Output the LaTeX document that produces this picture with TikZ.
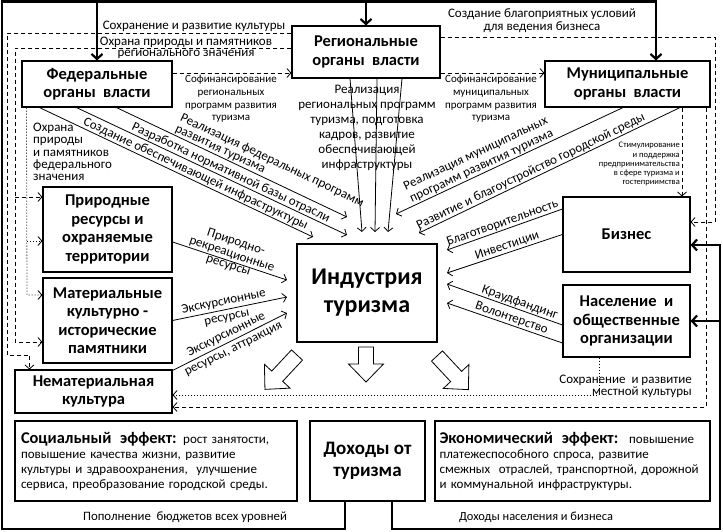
\documentclass[tikz,border=0pt]{standalone}
\usepackage{fontspec}
\setmainfont{Carlito}
\usetikzlibrary{arrows.meta}

\begin{document}
\begin{tikzpicture}[x=1pt, y=-1pt,
  box/.style={draw, line width=1.1pt, inner sep=0pt, align=center,
    font=\fontsize{16.5}{18.5}\selectfont\bfseries},
  effbox/.style={draw, line width=1.1pt, inner xsep=6pt, align=left,
    minimum height=80pt, font=\fontsize{13}{15}\selectfont},
  lbl/.style={font=\fontsize{13}{13}\selectfont, inner sep=1pt, align=center},
  smalllbl/.style={font=\fontsize{11}{12.7}\selectfont, inner sep=0pt, align=center},
  tinylbl/.style={font=\fontsize{8.5}{9.3}\selectfont, inner sep=0pt, align=right},
  link/.style={line width=0.8pt, -{Straight Barb[length=4pt,width=9pt]}},
  dashlink/.style={link, dash pattern=on 4pt off 3pt},
  dotlink/.style={link, dash pattern=on 1pt off 2pt},
  budget/.style={line width=2.2pt, -{Straight Barb[length=5pt,width=11pt]}},
  pics/bigarrow/.style={code={
    \draw[line width=0.8pt] (-7.5,0) -- (-7.5,#1-18) -- (-17.5,#1-18) -- (0,#1)
      -- (17.5,#1-18) -- (7.5,#1-18) -- (7.5,0) -- cycle;}}
]
  \useasboundingbox (0,0) rectangle (723,532);

  % Authorities
  \node[box, minimum width=150pt, minimum height=46pt] (fed) at (97,84) {Федеральные\\органы~ власти};
  \node[box, minimum width=148pt, minimum height=52pt] (reg) at (366,52) {Региональные\\органы~ власти};
  \node[box, minimum width=165pt, minimum height=46pt] (mun) at (627.5,84) {Муниципальные\\органы~ власти};

  % Resources
  \node[box, minimum width=129pt, minimum height=85pt] (pri) at (107.5,229.5) {Природные\\ресурсы и\\охраняемые\\территории};
  \node[box, minimum width=129pt, minimum height=85pt] (mat) at (107.5,320.5) {Материальные\\культурно -\\исторические\\памятники};
  \node[box, minimum width=157pt, minimum height=43pt] (nem) at (93.5,391.5) {Нематериальная\\культура};

  % Industry
  \node[box, minimum width=140pt, minimum height=98pt, font=\fontsize{24}{28}\selectfont\bfseries] (ind) at (367,293) {Индустрия\\туризма};

  % Business and community
  \node[box, minimum width=127pt, minimum height=75pt] (biz) at (626.5,234.5) {Бизнес};
  \node[box, minimum width=127pt, minimum height=72pt] (nas) at (626.5,321) {Население~ и\\общественные\\организации};

  % Effects
  \node[effbox, text width=270pt] (soc) at (156,461) {\textbf{\fontsize{16.4}{15}\selectfont Социальный~ эффект:} рост занятости,\\повышение качества жизни, развитие\\культуры и здравоохранения,~ улучшение\\сервиса, преобразование городской среды.};
  \node[box, minimum width=115pt, minimum height=80pt, font=\fontsize{19}{22}\selectfont\bfseries] (doh) at (367.5,461) {Доходы от\\туризма};
  \node[effbox, text width=266pt, inner xsep=4.5pt] (eco) at (572.5,461) {\textbf{\fontsize{16.4}{15}\selectfont Экономический~ эффект:}~ повышение\\платежеспособного спроса, развитие\\смежных~ отраслей, транспортной, дорожной\\и коммунальной инфраструктуры.};

  % Incomes back to the budgets
  \coordinate (bl) at (2,529);
  \coordinate (tl) at (2,1.5);
  \coordinate (br) at (720,529);
  \coordinate (dl) at ([xshift=-22.5pt]doh.south);
  \coordinate (dr) at ([xshift=24.5pt]doh.south);
  \draw[budget] (dl) -- (dl |- bl) -- (bl) -- (tl) -| ([xshift=28.5pt]mun.north);
  \draw[budget] (tl -| fed.north) -- (fed.north);
  \draw[budget] (tl -| reg.north) -- (reg.north);
  \draw[budget] (dr) -- (dr |- br) -- (br) |- ([yshift=-10.5pt]biz.east);
  \draw[budget] (br |- nas.east) -- (nas.east);
  \node[effbox, draw=none, minimum height=0pt, font=\fontsize{12.8}{15}\selectfont] (lbudget) at (185,517) {Пополнение~ бюджетов всех уровней};
  \node[effbox, draw=none, minimum height=0pt, font=\fontsize{12.4}{15}\selectfont] (lincome) at (536,517) {Доходы населения и бизнеса};

  % Regional culture and nature
  \coordinate (c1) at (7,355);
  \draw[dashlink] ([yshift=19pt]reg.west) -| (c1) -| ([xshift=15pt]nem.north west);
  \node[lbl] (lculture) at (194,26) {Сохранение и развитие культуры};
  \coordinate (c2) at (15,342);
  \coordinate (c3) at (15,197);
  \draw[dashlink] ([yshift=4pt]reg.west) -| (c2) -- (c2 -| mat.west);
  \draw[dashlink] (c3) -- (c3 -| pri.west);
  \node[lbl, font=\fontsize{13}{11}\selectfont] (lregional) at (186,47.5) {Охрана природы и памятников\\регионального значения};

  % Federal nature protection
  \coordinate (c4) at (27,295);
  \coordinate (c5) at (27,241);
  \draw[dotlink] ([xshift=5pt]fed.south west) -- (c4) -- (c4 -| mat.west);
  \draw[dotlink] (c5) -- (c5 -| pri.west);
  \node[lbl, align=left, anchor=north west, font=\fontsize{13}{12.2}\selectfont] (lfederal) at (32,122) {Охрана\\природы\\и памятников\\федерального\\значения};

  % Co-financing
  \coordinate (c6) at ([yshift=11pt]fed.east);
  \coordinate (c7) at ([yshift=-21pt]reg.east);
  \draw[dashlink] (c6) -- (c6 -| reg.west);
  \draw[dashlink] (c7) -- (c7 -| mun.west);
  \node[smalllbl] (lcoreg) at (231,99) {Софинансирование\\региональных\\программ развития\\туризма};
  \node[smalllbl] (lcomun) at (491,99) {Софинансирование\\муниципальных\\программ развития\\туризма};

  % Business support and local culture
  \coordinate (c8) at (715,222);
  \draw[dashlink] ([yshift=15pt]reg.east) -| (c8) -- (c8 -| biz.east);
  \node[lbl] (lbusiness) at (542,20.5) {Создание благоприятных условий\\для ведения бизнеса};
  \coordinate (c9) at (706,407);
  \draw[dashlink] (mun.south -| c9) -- (c9) -- (c9 -| nem.east);
  \coordinate (c10) at (599,395);
  \draw[dotlink] (nas.south -| c10) -- (c10) -- (c10 -| nem.east);
  \node[lbl, align=right, anchor=east, font=\fontsize{13}{12}\selectfont] (llocal) at (693,386) {Сохранение~ и развитие\\местной культуры};
  \coordinate (c11) at ([xshift=54.5pt]mun.south);
  \draw[dashlink] (c11) -- (c11 |- biz.north);
  \node[tinylbl, anchor=north east] (lsupport) at (680,142) {Стимулирование\\и поддержка\\предпринимательства\\в сфере туризма и\\гостеприимства};

  % Arrow tips near the industry
  \coordinate (fa) at (313,237);
  \coordinate (fb) at (347,235);
  \coordinate (fc) at (347,217);
  \coordinate (ra) at (362,232);
  \coordinate (rb) at (375,232);
  \coordinate (rc) at (388,232);
  \coordinate (ma) at (396,214);
  \coordinate (mb) at (419,233);
  \coordinate (ba) at (447,250);
  \coordinate (bb) at (447,273);
  \coordinate (na) at (447,284);
  \coordinate (nb) at (447,303);
  \coordinate (pa) at (287,280);
  \coordinate (ca) at (287,297);
  \coordinate (ea) at (287,313);

  % Federal
  \draw[link] ([xshift=18pt]fed.south west) -- node[lbl, pos=0.56, sloped, above] {Создание обеспечивающей инфраструктуры} (fa);
  \draw[link] ([xshift=55pt]fed.south west) -- node[lbl, pos=0.56, sloped, above] {Разработка нормативной базы отрасли} (fb);
  \draw[link] ([xshift=95pt]fed.south west) -- node[lbl, pos=0.64, sloped, above, align=left, font=\fontsize{13}{12}\selectfont] {Реализация федеральных программ\\развития туризма} (fc);

  % Regional
  \draw[link] ([xshift=-16pt]reg.south) -- (ra);
  \draw[link] ([xshift=11pt]reg.south) -- (rb);
  \draw[link] ([xshift=36pt]reg.south) -- (rc);
  \node[lbl, font=\fontsize{13}{15}\selectfont] (lregprog) at (367,128) {Реализация\\региональных программ\\туризма, подготовка\\кадров, развитие\\обеспечивающей\\инфраструктуры};

  % Municipal
  \draw[link] ([xshift=-4.5pt]mun.south) -- node[lbl, pos=0.61, sloped, above, font=\fontsize{13}{14}\selectfont] {Реализация муниципальных\\программ развития туризма} (ma);
  \draw[link] ([xshift=52.5pt]mun.south) -- node[lbl, pos=0.56, sloped, above] {Развитие и благоустройство городской среды} (mb);

  % Business and community
  \draw[link] ([yshift=25.5pt]biz.west) -- node[lbl, midway, sloped, above] {Благотворительность} (ba);
  \draw[link] (biz.west) -- node[lbl, pos=0.46, sloped, above] {Инвестиции} (bb);
  \draw[link] ([yshift=-4pt]nas.west) -- node[lbl, pos=0.39, sloped, above] {Краудфандинг} (na);
  \draw[link] ([yshift=-22pt]nas.west) -- node[lbl, pos=0.46, sloped, above] {Волонтерство} (nb);

  % Resources
  \draw[link] ([yshift=-12.5pt]pri.east) -- node[lbl, midway, sloped, above] {Природно-\\рекреационные} node[lbl, midway, sloped, below] {ресурсы} (pa);
  \draw[link] (mat.east) -- node[lbl, pos=0.46, sloped, font=\fontsize{13}{16}\selectfont] {Экскурсионные\\ресурсы} (ca);
  \draw[link] ([yshift=-1pt]nem.north east) -- node[lbl, midway, sloped, font=\fontsize{13}{16}\selectfont] {Экскурсионные\\ресурсы, аттракция} (ea);

  % Outputs
  \pic[rotate=-43] at (297,355) {bigarrow=47};
  \pic at (366,347) {bigarrow=35};
  \pic[rotate=43] at (437,356) {bigarrow=46};

\end{tikzpicture}
\end{document}
